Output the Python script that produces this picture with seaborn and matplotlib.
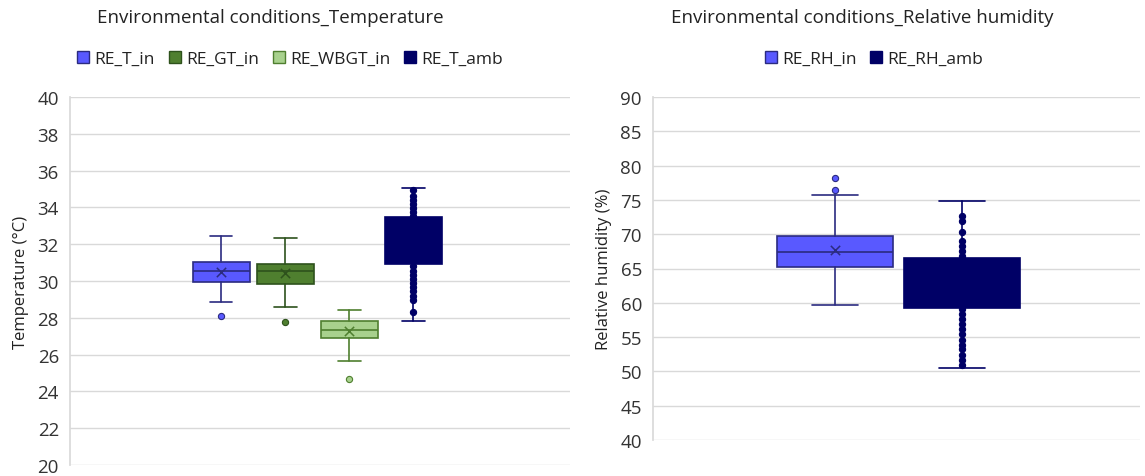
import matplotlib
matplotlib.use('Agg')
import matplotlib.pyplot as plt
from matplotlib.patches import Patch
import seaborn as sns

# --- temperature panel ---
temp_labels = ['RE_T_in', 'RE_GT_in', 'RE_WBGT_in', 'RE_T_amb']
temp_whislo = [28.87, 28.60, 25.64, 27.80]
temp_q1 = [29.95, 29.82, 26.90, 30.90]
temp_med = [30.53, 30.53, 27.32, 32.10]
temp_q3 = [31.05, 30.92, 27.80, 33.47]
temp_whishi = [32.43, 32.35, 28.40, 35.05]
temp_mean = [30.50, 30.43, 27.30, 32.20]
temp_points = [
    [28.10],
    [27.77],
    [24.70],
    [34.95, 34.64, 34.42, 34.18, 33.95, 33.73, 33.55,
     30.80, 30.56, 30.34, 30.11, 29.89, 29.66, 29.44, 29.20, 28.98, 28.33],
]

# --- relative humidity panel ---
rh_labels = ['RE_RH_in', 'RE_RH_amb']
rh_whislo = [59.70, 50.45]
rh_q1 = [65.20, 59.20]
rh_med = [67.40, 63.00]
rh_q3 = [69.70, 66.60]
rh_whishi = [75.70, 74.80]
rh_mean = [67.75, 63.20]
rh_points = [
    [78.15, 76.50],
    [72.70, 71.97, 70.27, 69.06, 68.33, 67.60, 66.87,
     59.10, 58.37, 57.64, 56.90, 56.17, 55.44, 54.60, 53.90, 53.20, 52.45, 51.70, 50.98],
]

temp_fill = ['#5959FF', '#4F7F2F', '#A8D18D', '#000066']
temp_edge = ['#2B2B80', '#2E521C', '#4F7F2F', '#000066']
rh_fill = ['#5959FF', '#000066']
rh_edge = ['#2B2B80', '#000066']

sns.set_theme(style='whitegrid')
plt.rcParams['font.family'] = ['Open Sans', 'DejaVu Sans']

W, H = 1145, 477
fig = plt.figure(figsize=(W / 100, H / 100), dpi=100)
ax1 = fig.add_axes([70 / W, 1 - 466 / H, 500 / W, 368 / H])
ax2 = fig.add_axes([653 / W, 1 - 441 / H, 487 / W, 343 / H])


def draw_panel(ax, labels, lo, q1, med, q3, hi, mean, pts, fills, edges, width, legend_x):
    stats = []
    for i in range(len(labels)):
        stats.append(dict(label=labels[i], whislo=lo[i], q1=q1[i], med=med[i],
                          q3=q3[i], whishi=hi[i], fliers=[]))
    pos = list(range(len(labels)))
    bp = ax.bxp(stats, positions=pos, widths=width, patch_artist=True,
                showfliers=False, manage_ticks=False)
    for i in range(len(labels)):
        bp['boxes'][i].set_facecolor(fills[i])
        bp['boxes'][i].set_edgecolor(edges[i])
        bp['boxes'][i].set_linewidth(1.2)
        bp['medians'][i].set_color(edges[i])
        bp['medians'][i].set_linewidth(1.2)
        for ln in bp['whiskers'][2 * i:2 * i + 2] + bp['caps'][2 * i:2 * i + 2]:
            ln.set_color(edges[i])
            ln.set_linewidth(1.2)
        for ln in bp['caps'][2 * i:2 * i + 2]:
            ln.set_xdata([pos[i] - width * 0.2, pos[i] + width * 0.2])
        sns.scatterplot(x=[pos[i]] * len(pts[i]), y=pts[i], ax=ax, s=20,
                        color=fills[i] if i < len(labels) - 1 else edges[i],
                        edgecolor=edges[i], linewidth=0.8, zorder=4, legend=False)
        ax.scatter([pos[i]], [mean[i]], marker='x', s=45, color=edges[i],
                   linewidths=1.1, zorder=5)
    handles = [Patch(facecolor=fills[i], edgecolor=edges[i], label=labels[i])
               for i in range(len(labels))]
    ax.legend(handles=handles, loc='center', bbox_to_anchor=(legend_x / W, 1 - 60 / H),
              bbox_transform=fig.transFigure, ncol=len(labels), frameon=False,
              fontsize=12.5, handlelength=0.7, handleheight=0.7, handletextpad=0.3,
              columnspacing=0.8, labelcolor='#222222')
    ax.set_xticks([])
    ax.grid(axis='y', color='#D9D9D9', linewidth=1)
    ax.grid(axis='x', visible=False)
    for s in ['top', 'right', 'bottom']:
        ax.spines[s].set_visible(False)
    ax.spines['left'].set_color('#D9D9D9')
    ax.tick_params(axis='y', labelsize=13.5, length=0, pad=8, colors='#333333')


draw_panel(ax1, temp_labels, temp_whislo, temp_q1, temp_med, temp_q3, temp_whishi,
           temp_mean, temp_points, temp_fill, temp_edge, 0.89, 290)
ax1.set_xlim(-2.36, 5.45)
ax1.set_ylim(20, 40)
ax1.set_yticks(range(20, 41, 2))
ax1.set_ylabel('Temperature (°C)', fontsize=12, color='#222222', labelpad=6)
fig.text(270 / W, 1 - 18 / H, 'Environmental conditions_Temperature',
         ha='center', va='center', fontsize=13.5, color='#222222')

draw_panel(ax2, rh_labels, rh_whislo, rh_q1, rh_med, rh_q3, rh_whishi,
           rh_mean, rh_points, rh_fill, rh_edge, 0.91, 874)
ax2.set_xlim(-1.433, 2.40)
ax2.set_ylim(40, 90)
ax2.set_yticks(range(40, 91, 5))
ax2.set_ylabel('Relative humidity (%)', fontsize=12, color='#222222', labelpad=6)
fig.text(862 / W, 1 - 18 / H, 'Environmental conditions_Relative humidity',
         ha='center', va='center', fontsize=13.5, color='#222222')

fig.savefig('out.png', dpi=100)
